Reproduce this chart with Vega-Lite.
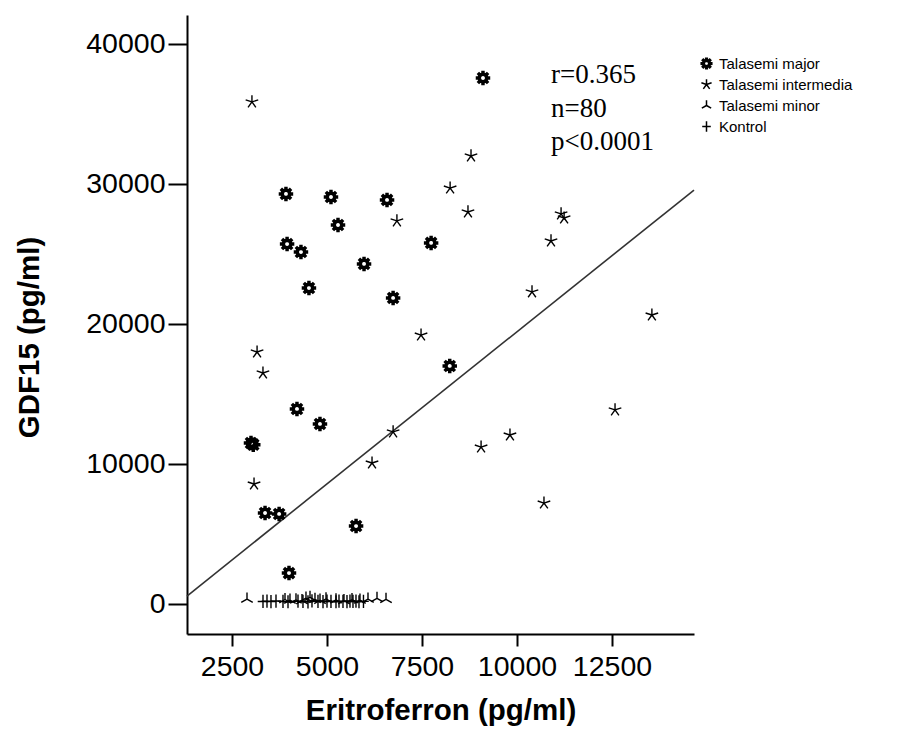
{
  "$schema": "https://vega.github.io/schema/vega-lite/v6.json",
  "autosize": {"type": "none"},
  "padding": {"left": 187, "top": 15, "right": 221, "bottom": 113},
  "width": 507,
  "height": 619,
  "background": "white",
  "config": {
    "view": {"stroke": null},
    "font": "Liberation Sans",
    "axis": {
      "domainColor": "black", "domainWidth": 2, "tickColor": "black", "tickWidth": 2,
      "labelColor": "black", "titleColor": "black", "labelFont": "Liberation Sans",
      "titleFont": "Liberation Sans", "labelFontSize": 28.5, "titleFontSize": 29.5,
      "titleFontWeight": "bold", "grid": false
    }
  },
  "layer": [
    {
      "data": {"values": [{"eritroferron": 1316, "gdf15": 571}, {"eritroferron": 14658, "gdf15": 29570}]},
      "mark": {"type": "line", "color": "#333333", "strokeWidth": 1.6},
      "encoding": {
        "x": {"field": "eritroferron", "type": "quantitative", "scale": {"domain": [1316, 14658], "nice": false, "zero": false}},
        "y": {"field": "gdf15", "type": "quantitative", "scale": {"domain": [-2143, 42070], "nice": false, "zero": false}}
      }
    },
    {
      "data": {"values": [
        {"eritroferron": 9105, "gdf15": 37570, "group": "Talasemi major"},
        {"eritroferron": 3920, "gdf15": 29290, "group": "Talasemi major"},
        {"eritroferron": 5105, "gdf15": 29070, "group": "Talasemi major"},
        {"eritroferron": 6580, "gdf15": 28860, "group": "Talasemi major"},
        {"eritroferron": 5290, "gdf15": 27070, "group": "Talasemi major"},
        {"eritroferron": 3950, "gdf15": 25710, "group": "Talasemi major"},
        {"eritroferron": 4315, "gdf15": 25140, "group": "Talasemi major"},
        {"eritroferron": 7740, "gdf15": 25790, "group": "Talasemi major"},
        {"eritroferron": 5975, "gdf15": 24290, "group": "Talasemi major"},
        {"eritroferron": 4525, "gdf15": 22570, "group": "Talasemi major"},
        {"eritroferron": 6740, "gdf15": 21860, "group": "Talasemi major"},
        {"eritroferron": 8230, "gdf15": 17000, "group": "Talasemi major"},
        {"eritroferron": 4210, "gdf15": 13930, "group": "Talasemi major"},
        {"eritroferron": 4815, "gdf15": 12860, "group": "Talasemi major"},
        {"eritroferron": 3000, "gdf15": 11500, "group": "Talasemi major"},
        {"eritroferron": 3060, "gdf15": 11380, "group": "Talasemi major"},
        {"eritroferron": 3370, "gdf15": 6500, "group": "Talasemi major"},
        {"eritroferron": 3740, "gdf15": 6430, "group": "Talasemi major"},
        {"eritroferron": 5765, "gdf15": 5570, "group": "Talasemi major"},
        {"eritroferron": 4000, "gdf15": 2210, "group": "Talasemi major"},
        {"eritroferron": 3025, "gdf15": 35860, "group": "Talasemi intermedia"},
        {"eritroferron": 8790, "gdf15": 32000, "group": "Talasemi intermedia"},
        {"eritroferron": 8240, "gdf15": 29710, "group": "Talasemi intermedia"},
        {"eritroferron": 8710, "gdf15": 28000, "group": "Talasemi intermedia"},
        {"eritroferron": 6840, "gdf15": 27360, "group": "Talasemi intermedia"},
        {"eritroferron": 11160, "gdf15": 27860, "group": "Talasemi intermedia"},
        {"eritroferron": 11240, "gdf15": 27570, "group": "Talasemi intermedia"},
        {"eritroferron": 10895, "gdf15": 25930, "group": "Talasemi intermedia"},
        {"eritroferron": 10395, "gdf15": 22290, "group": "Talasemi intermedia"},
        {"eritroferron": 13550, "gdf15": 20640, "group": "Talasemi intermedia"},
        {"eritroferron": 12580, "gdf15": 13860, "group": "Talasemi intermedia"},
        {"eritroferron": 9815, "gdf15": 12070, "group": "Talasemi intermedia"},
        {"eritroferron": 10710, "gdf15": 7210, "group": "Talasemi intermedia"},
        {"eritroferron": 9055, "gdf15": 11210, "group": "Talasemi intermedia"},
        {"eritroferron": 7475, "gdf15": 19210, "group": "Talasemi intermedia"},
        {"eritroferron": 3160, "gdf15": 18000, "group": "Talasemi intermedia"},
        {"eritroferron": 3315, "gdf15": 16500, "group": "Talasemi intermedia"},
        {"eritroferron": 3080, "gdf15": 8570, "group": "Talasemi intermedia"},
        {"eritroferron": 6740, "gdf15": 12290, "group": "Talasemi intermedia"},
        {"eritroferron": 6185, "gdf15": 10070, "group": "Talasemi intermedia"},
        {"eritroferron": 2895, "gdf15": 350, "group": "Talasemi minor"},
        {"eritroferron": 3895, "gdf15": 320, "group": "Talasemi minor"},
        {"eritroferron": 4026, "gdf15": 280, "group": "Talasemi minor"},
        {"eritroferron": 4184, "gdf15": 300, "group": "Talasemi minor"},
        {"eritroferron": 4342, "gdf15": 250, "group": "Talasemi minor"},
        {"eritroferron": 4447, "gdf15": 420, "group": "Talasemi minor"},
        {"eritroferron": 4553, "gdf15": 480, "group": "Talasemi minor"},
        {"eritroferron": 4684, "gdf15": 330, "group": "Talasemi minor"},
        {"eritroferron": 4816, "gdf15": 270, "group": "Talasemi minor"},
        {"eritroferron": 4974, "gdf15": 360, "group": "Talasemi minor"},
        {"eritroferron": 5237, "gdf15": 300, "group": "Talasemi minor"},
        {"eritroferron": 5447, "gdf15": 250, "group": "Talasemi minor"},
        {"eritroferron": 5658, "gdf15": 310, "group": "Talasemi minor"},
        {"eritroferron": 5868, "gdf15": 280, "group": "Talasemi minor"},
        {"eritroferron": 6079, "gdf15": 350, "group": "Talasemi minor"},
        {"eritroferron": 6316, "gdf15": 400, "group": "Talasemi minor"},
        {"eritroferron": 6553, "gdf15": 330, "group": "Talasemi minor"},
        {"eritroferron": 3316, "gdf15": 180, "group": "Kontrol"},
        {"eritroferron": 3421, "gdf15": 200, "group": "Kontrol"},
        {"eritroferron": 3526, "gdf15": 170, "group": "Kontrol"},
        {"eritroferron": 3658, "gdf15": 210, "group": "Kontrol"},
        {"eritroferron": 3842, "gdf15": 190, "group": "Kontrol"},
        {"eritroferron": 3974, "gdf15": 160, "group": "Kontrol"},
        {"eritroferron": 4237, "gdf15": 200, "group": "Kontrol"},
        {"eritroferron": 4368, "gdf15": 180, "group": "Kontrol"},
        {"eritroferron": 4500, "gdf15": 150, "group": "Kontrol"},
        {"eritroferron": 4605, "gdf15": 220, "group": "Kontrol"},
        {"eritroferron": 4763, "gdf15": 190, "group": "Kontrol"},
        {"eritroferron": 4895, "gdf15": 170, "group": "Kontrol"},
        {"eritroferron": 5000, "gdf15": 210, "group": "Kontrol"},
        {"eritroferron": 5105, "gdf15": 180, "group": "Kontrol"},
        {"eritroferron": 5237, "gdf15": 160, "group": "Kontrol"},
        {"eritroferron": 5316, "gdf15": 200, "group": "Kontrol"},
        {"eritroferron": 5421, "gdf15": 190, "group": "Kontrol"},
        {"eritroferron": 5526, "gdf15": 170, "group": "Kontrol"},
        {"eritroferron": 5605, "gdf15": 210, "group": "Kontrol"},
        {"eritroferron": 5684, "gdf15": 180, "group": "Kontrol"},
        {"eritroferron": 5763, "gdf15": 200, "group": "Kontrol"},
        {"eritroferron": 5842, "gdf15": 160, "group": "Kontrol"},
        {"eritroferron": 5960, "gdf15": 190, "group": "Kontrol"}
      ]},
      "mark": {"type": "point", "filled": false, "color": "black", "strokeWidth": 1.4, "opacity": 1, "size": 175},
      "encoding": {
        "x": {"field": "eritroferron", "type": "quantitative", "scale": {"domain": [1316, 14658], "nice": false, "zero": false},
          "axis": {"title": "Eritroferron (pg/ml)", "values": [2500, 5000, 7500, 10000, 12500], "format": "d", "tickSize": 12, "labelPadding": 6, "titlePadding": 16, "labelFlush": false}},
        "y": {"field": "gdf15", "type": "quantitative", "scale": {"domain": [-2143, 42070], "nice": false, "zero": false},
          "axis": {"title": "GDF15 (pg/ml)", "values": [0, 10000, 20000, 30000, 40000], "format": "d", "tickSize": 19, "labelPadding": 3, "titlePadding": 41, "titleY": 322, "labelFlush": false}},
        "shape": {"field": "group", "type": "nominal",
          "scale": {"domain": ["Talasemi major", "Talasemi intermedia", "Talasemi minor", "Kontrol"],
            "range": [
              "M-0.156,-0.988L0.156,-0.988L0.168,-0.7L0.376,-0.614L0.588,-0.809L0.809,-0.588L0.614,-0.376L0.7,-0.168L0.988,-0.156L0.988,0.156L0.7,0.168L0.614,0.376L0.809,0.588L0.588,0.809L0.376,0.614L0.168,0.7L0.156,0.988L-0.156,0.988L-0.168,0.7L-0.376,0.614L-0.588,0.809L-0.809,0.588L-0.614,0.376L-0.7,0.168L-0.988,0.156L-0.988,-0.156L-0.7,-0.168L-0.614,-0.376L-0.809,-0.588L-0.588,-0.809L-0.376,-0.614L-0.168,-0.7ZM0,-0.42L-0.297,-0.297L-0.42,0L-0.297,0.297L0,0.42L0.297,0.297L0.42,0L0.297,-0.297ZM0,-0.54L-0.382,-0.382L-0.54,0L-0.382,0.382L0,0.54L0.382,0.382L0.54,0L0.382,-0.382ZM0,-0.64L-0.453,-0.453L-0.64,0L-0.453,0.453L0,0.64L0.453,0.453L0.64,0L0.453,-0.453ZM0,-0.7L0,-0.93M0.495,-0.495L0.658,-0.658M0.7,0L0.93,0M0.495,0.495L0.658,0.658M0,0.7L0,0.93M-0.495,0.495L-0.658,0.658M-0.7,0L-0.93,0M-0.495,-0.495L-0.658,-0.658",
              "M0,0L0,-1M0,0L0.95,-0.31M0,0L0.59,0.81M0,0L-0.59,0.81M0,0L-0.95,-0.31",
              "M0,0L0,-1M0,0L-0.87,0.5M0,0L0.87,0.5",
              "M-0.8,0L0.8,0M0,-1L0,1"
            ]},
          "legend": {"title": null, "orient": "none", "legendX": 512, "legendY": 41, "labelFont": "Liberation Sans", "labelFontSize": 15, "labelColor": "black", "symbolSize": 115, "rowPadding": 4, "labelOffset": 5, "padding": 0}
        }
      }
    },
    {
      "data": {"values": [
        {"label": "r=0.365", "eritroferron": 10895, "gdf15": 37214},
        {"label": "n=80", "eritroferron": 10895, "gdf15": 34786},
        {"label": "p<0.0001", "eritroferron": 10895, "gdf15": 32429}
      ]},
      "mark": {"type": "text", "align": "left", "baseline": "alphabetic", "font": "Liberation Serif", "fontSize": 27, "color": "black"},
      "encoding": {
        "x": {"field": "eritroferron", "type": "quantitative", "scale": {"domain": [1316, 14658], "nice": false, "zero": false}},
        "y": {"field": "gdf15", "type": "quantitative", "scale": {"domain": [-2143, 42070], "nice": false, "zero": false}},
        "text": {"field": "label"}
      }
    }
  ]
}
